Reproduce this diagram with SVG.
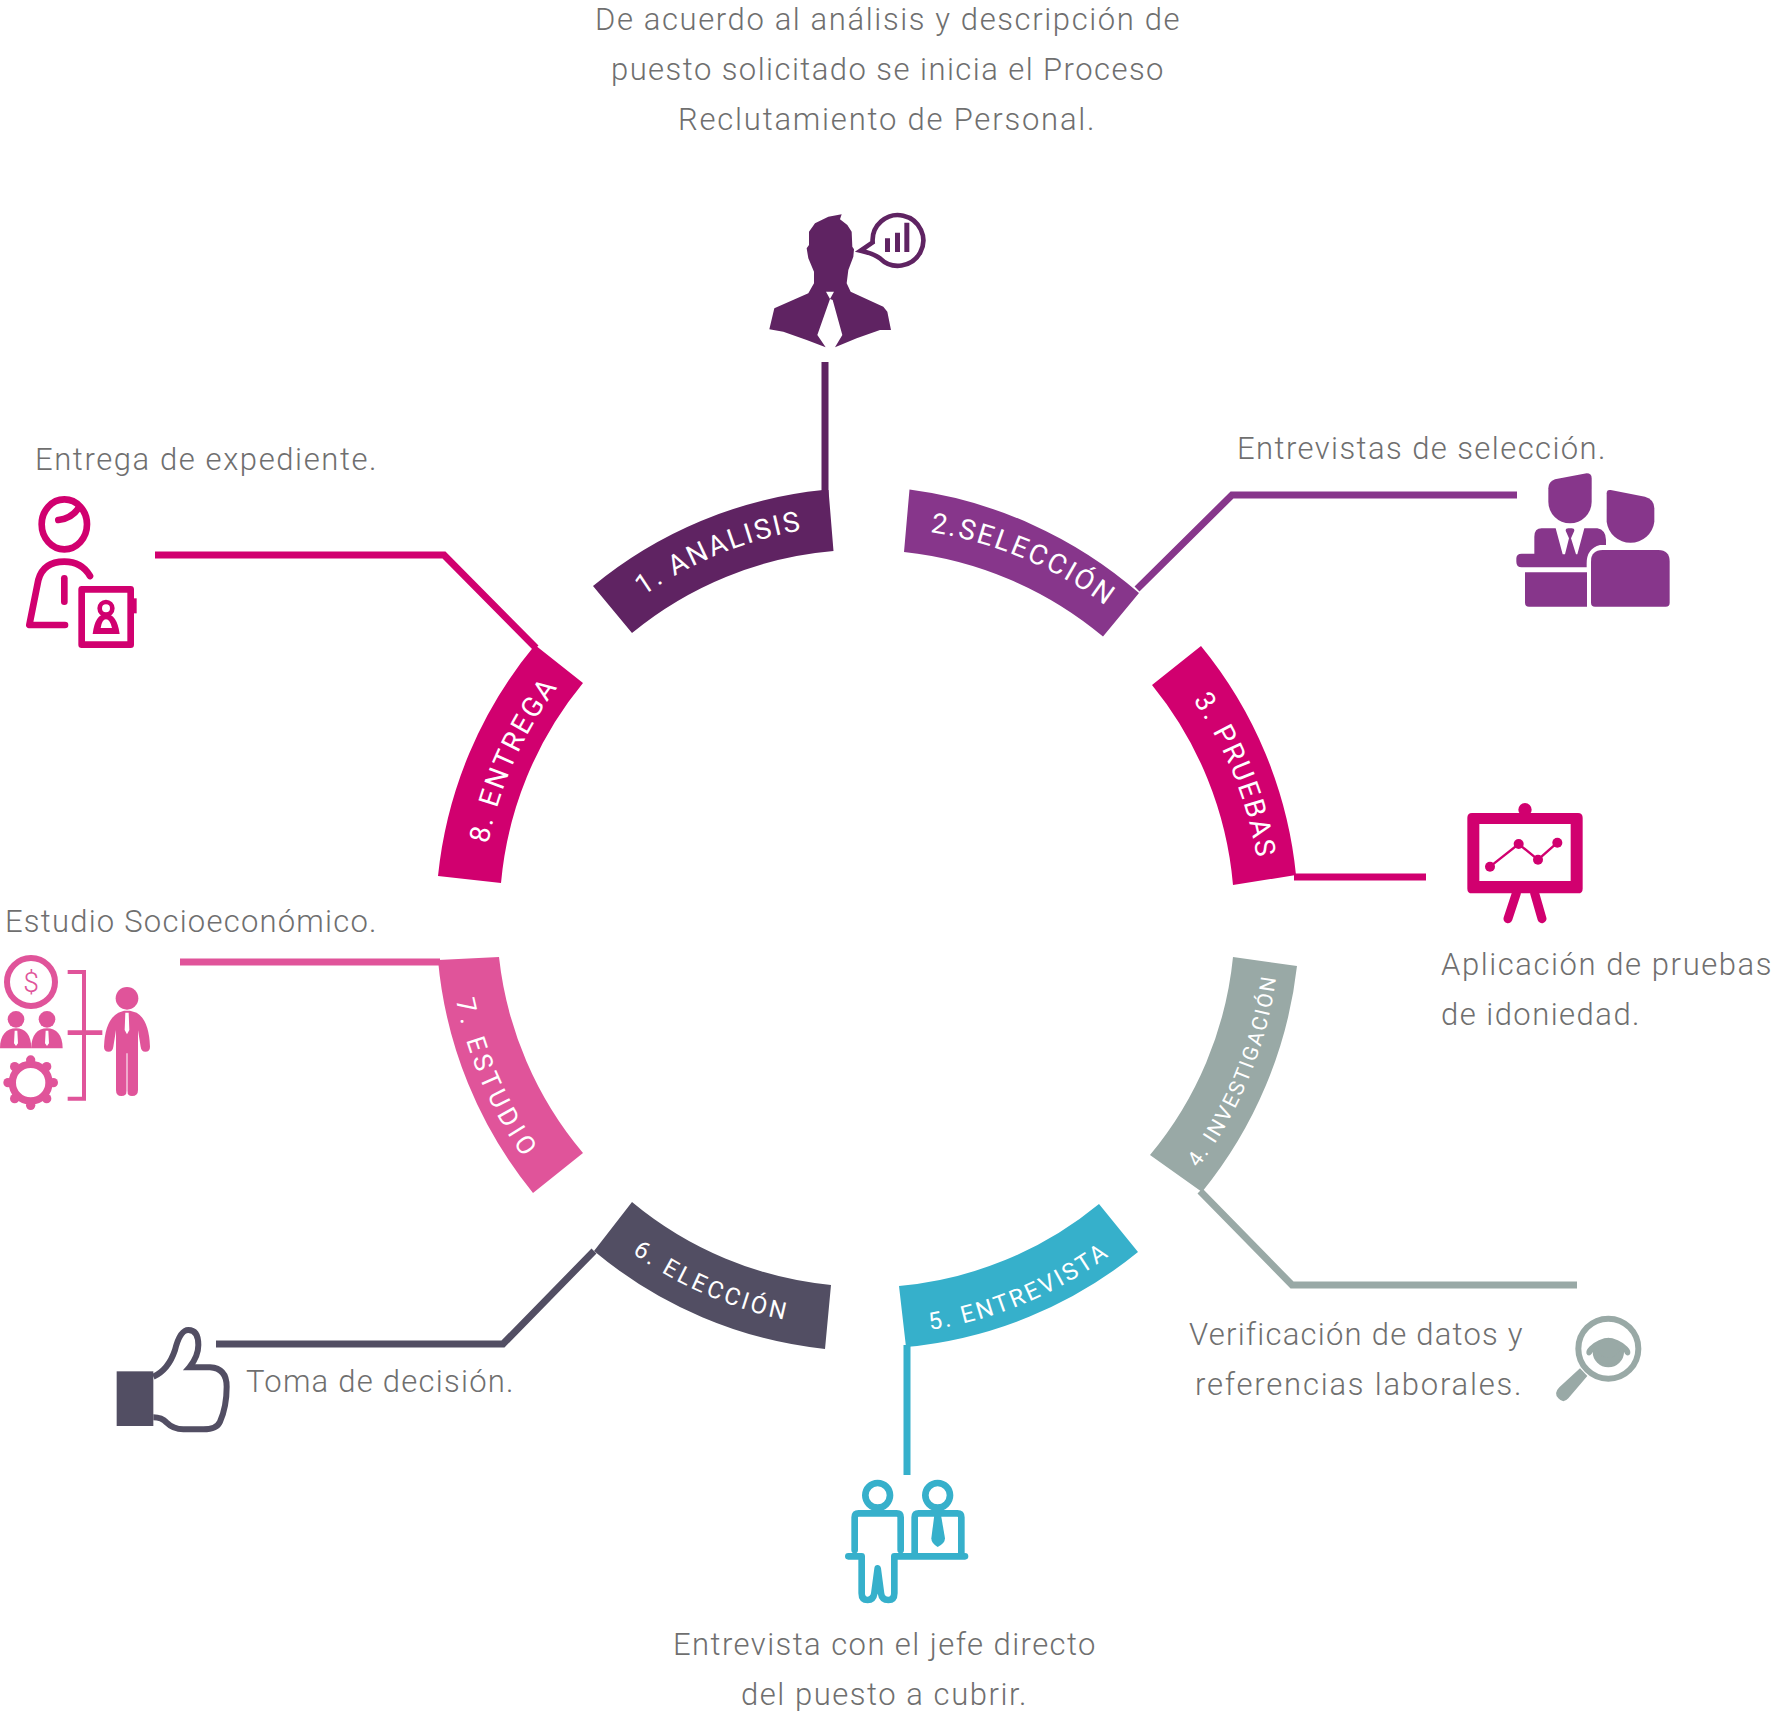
<svg xmlns="http://www.w3.org/2000/svg" width="1775" height="1713" viewBox="0 0 1775 1713">
<style>
text{font-family:"Roboto","Liberation Sans",sans-serif}
.t{font-size:31px;font-weight:300;fill:#6f6f6f;letter-spacing:1.5px}
.b{font-size:28px;font-weight:400;fill:#fff;letter-spacing:2.2px}
.c{fill:none;stroke-width:7}
.s{fill:none;stroke-linecap:round;stroke-linejoin:round}
</style>
<defs>
<path id="p1" d="M643 596A399 399 0 0 1 900 525"/>
<path id="p2" d="M930 532A395 395 0 0 1 1170 666"/>
<path id="p3" d="M1193 700A395 395 0 0 1 1262 940"/>
<path id="p4" d="M1198 1168A413 413 0 0 0 1280 930"/>
<path id="p5" d="M930 1330A412 412 0 0 0 1180 1190"/>
<path id="p6" d="M632 1253A406 406 0 0 0 850 1328"/>
<path id="p7" d="M456 1000A417 417 0 0 0 620 1256"/>
<path id="p8" d="M488 844A387 387 0 0 1 700 570"/>
</defs>
<g id="connectors">
<path class="c" stroke="#5f2362" d="M825 362V497"/>
<path class="c" stroke="#87368b" d="M1137 589L1232 495H1517"/>
<path class="c" stroke="#d1006f" d="M1294 877H1426"/>
<path class="c" stroke="#99a9a6" d="M1200 1191L1292 1285H1577"/>
<path class="c" stroke="#36b0cb" d="M907 1345V1475"/>
<path class="c" stroke="#524e63" d="M594 1251L503 1344H216"/>
<path class="c" stroke="#e0549a" d="M440 962H180"/>
<path class="c" stroke="#d1006f" d="M155 555H444L536 648"/>
</g>
<g id="node1">
<path fill="#5f2362" d="M593 586A430 430 0 0 1 823 490L828.500 490L833.500 551A366 366 0 0 0 632 633Z"/>
<text class="b"><textPath href="#p1">1. ANALISIS</textPath></text>
<g transform="translate(740 190) scale(.33333)">
<path fill="#5f2362" d="M305 73L300 88L322 105L335 125L337 170L342 178L340 200L325 240L320 280L332 305L430 350L442 365L453 420L420 420L350 445L285 472L307 435L278 330L270 327L282 305H258L270 327L232 435L257 472L200 450L130 425L88 418L103 355L205 310L222 280L222 245L205 205L200 175L207 165L207 125L225 100L265 80Z"/>
<path fill="none" stroke="#5f2362" stroke-width="14" d="M398 157L362 182Q400 190 420 205A76 76 0 1 0 398 157Z"/>
<path fill="#5f2362" d="M435 145h15v41h-15zM465 128h15v58h-15zM493 98h15v88h-15z"/>
</g>
<text class="t" x="595" y="30" textLength="586">De acuerdo al análisis y descripción de</text>
<text class="t" x="611" y="80" textLength="554">puesto solicitado se inicia el Proceso</text>
<text class="t" x="678" y="130" textLength="418">Reclutamiento de Personal.</text>
</g>
<g id="node2">
<path fill="#87368b" d="M909.500 489.600A436 436 0 0 1 1139 593L1103 636.600A372 372 0 0 0 904 552Z"/>
<text class="b"><textPath href="#p2">2.SELECCIÓN</textPath></text>
<g transform="translate(1490 460) scale(.33333)" fill="#87368b">
<path d="M175 85Q175 65 195 58L290 40Q305 40 305 55V125A65 65 0 0 1 175 125Z"/>
<path d="M350 100Q350 88 362 90L465 110Q493 118 493 145V185A72 72 0 0 1 350 185Z"/>
<path d="M133 280V230Q133 205 155 205H197L218 283H225L237 235L227 212Q227 205 235 205H245Q253 205 253 212L243 235L258 283H262L283 205H322Q348 210 348 240V255H330Q290 265 290 310V322H95Q79 322 79 305V295Q79 281 95 281H133Z"/>
<path d="M105 337H291V440H117Q105 440 105 428Z"/>
<path d="M338 270H505Q539 270 539 305V428Q539 440 527 440H315Q303 440 303 428V305Q303 270 338 270Z"/>
</g>
<text class="t" x="1237" y="459" textLength="370">Entrevistas de selección.</text>
</g>
<g id="node3">
<path fill="#d1006f" d="M1152 685L1201 646A428 428 0 0 1 1296 875L1233 885A366 366 0 0 0 1152 685Z"/>
<text class="b"><textPath href="#p3">3. PRUEBAS</textPath></text>
<g transform="translate(1440 790) scale(.33333)">
<circle fill="#d1006f" cx="255" cy="59" r="20"/>
<path fill="#d1006f" fill-rule="evenodd" d="M96 69H414Q428 69 428 83V296Q428 310 414 310H96Q82 310 82 296V83Q82 69 96 69ZM118 102V273H392V102Z"/>
<path stroke="#d1006f" fill="none" stroke-width="27" stroke-linecap="round" d="M229 310L204 386M284 310L306 386"/>
<path stroke="#d1006f" fill="none" stroke-width="7" d="M150 230L236 162L294 209L352 158"/>
<g fill="#d1006f"><circle cx="150" cy="230" r="15"/><circle cx="236" cy="162" r="15"/><circle cx="294" cy="209" r="15"/><circle cx="352" cy="158" r="15"/></g>
</g>
<text class="t" x="1441" y="975" textLength="332">Aplicación de pruebas</text>
<text class="t" x="1441" y="1025" textLength="200">de idoniedad.</text>
</g>
<g id="node4">
<path fill="#99a9a6" d="M1233 957L1297 966A436 436 0 0 1 1202 1192L1150 1155A366 366 0 0 0 1233 957Z"/>
<text class="b" style="font-size:21px;letter-spacing:2.1px"><textPath href="#p4">4. INVESTIGACIÓN</textPath></text>
<g transform="translate(1530 1300) scale(.33333)">
<circle cx="235" cy="146" r="90" fill="none" stroke="#99a9a6" stroke-width="18"/>
<path d="M150 205L172 228L115 295Q100 312 85 295Q70 280 88 262Z" fill="#99a9a6"/>
<path fill="#99a9a6" d="M172 165Q163 155 178 140Q235 88 292 140Q307 155 298 165Q288 170 282 155A47 47 0 0 1 188 155Q182 170 172 165Z"/>
<circle cx="235" cy="143" r="30" fill="#99a9a6"/>
<path d="M235 192A50 50 0 0 1 188 155L198 145A38 38 0 0 0 272 145L282 155A50 50 0 0 1 235 192Z" fill="#99a9a6"/>
</g>
<text class="t" x="1189" y="1345" textLength="335">Verificación de datos y</text>
<text class="t" x="1195" y="1395" textLength="328">referencias laborales.</text>
</g>
<g id="node5">
<path fill="#36b0cb" d="M899 1286A366 366 0 0 0 1099 1204L1138 1252A430 430 0 0 1 906 1347Z"/>
<text class="b" style="font-size:24px;letter-spacing:2.6px"><textPath href="#p5">5. ENTREVISTA</textPath></text>
<g transform="translate(830 1460) scale(.33333)" stroke="#36b0cb" stroke-width="20" class="s">
<circle cx="143" cy="106" r="37"/><circle cx="323" cy="106" r="37"/>
<path d="M74 270V172Q74 160 86 160H200Q212 160 212 172V270"/>
<path d="M55 289H95V400Q95 420 113 420Q130 420 133 400L143 325L153 400Q156 420 175 420Q193 420 193 400V289H405"/>
<path d="M254 280V172Q254 160 266 160H382Q394 160 394 172V280"/>
<path fill="#36b0cb" stroke="none" d="M313 165H333L345 235Q345 250 323 261Q304 250 304 235Z"/>
</g>
<text class="t" x="673" y="1655" textLength="424">Entrevista con el jefe directo</text>
<text class="t" x="741" y="1705" textLength="287">del puesto a cubrir.</text>
</g>
<g id="node6">
<path fill="#524e63" d="M632 1202A366 366 0 0 0 831 1285L825 1349A430 430 0 0 1 594 1251Z"/>
<text class="b" style="font-size:24px;letter-spacing:3px"><textPath href="#p6">6. ELECCIÓN</textPath></text>
<g transform="translate(100 1310) scale(.33333)">
<rect x="50" y="184" width="110" height="164" fill="#524e63"/>
<path fill="none" stroke="#524e63" stroke-width="18" d="M160 200Q205 180 225 120Q240 60 265 60Q295 60 295 105Q295 140 268 172H330Q380 175 380 230Q380 290 360 335Q350 358 310 358H250Q220 358 200 338Q185 322 160 322"/>
</g>
<text class="t" x="246" y="1392" textLength="269">Toma de decisión.</text>
</g>
<g id="node7">
<path fill="#e0549a" d="M438 960L499 957A366 366 0 0 0 583 1153L533 1193A430 430 0 0 1 438 960Z"/>
<text class="b" style="font-size:26px;letter-spacing:4.4px"><textPath href="#p7">7. ESTUDIO</textPath></text>
<g transform="translate(0 940) scale(.33333)" fill="#e0549a">
<circle cx="93" cy="126" r="72" fill="none" stroke="#e0549a" stroke-width="18"/>
<text x="93" y="156" style="font-size:85px;font-weight:300;fill:#e0549a;text-anchor:middle">$</text>
<circle cx="48" cy="238" r="25"/><circle cx="141" cy="238" r="25"/>
<path d="M0 325C0 285 20 265 48 265C76 265 94 285 94 325ZM94 325C94 285 113 265 141 265C169 265 188 285 188 325Z"/>
<path fill="#fff" d="M44 272H52L54 310L48 318L42 310ZM137 272H145L147 310L141 318L135 310Z"/>
<circle cx="92" cy="428" r="55" fill="none" stroke="#e0549a" stroke-width="22"/>
<g><circle cx="92" cy="360" r="14"/><circle cx="92" cy="496" r="14"/><circle cx="24" cy="428" r="14"/><circle cx="160" cy="428" r="14"/><circle cx="44" cy="380" r="14"/><circle cx="140" cy="380" r="14"/><circle cx="44" cy="476" r="14"/><circle cx="140" cy="476" r="14"/></g>
<path fill="none" stroke="#e0549a" stroke-width="12" d="M203 96H252V476H203"/>
<path fill="none" stroke="#e0549a" stroke-width="14" d="M203 278H307"/>
<circle cx="381" cy="175" r="34"/>
<path d="M312 320Q315 240 355 218L372 212H390L410 218Q447 240 450 320Q450 335 436 335Q424 335 422 320L414 270V450Q414 468 396 468Q382 468 381 452Q380 468 364 468Q348 468 348 450V270L340 320Q338 335 326 335Q312 335 312 320Z"/>
<path fill="#fff" d="M376 218H386L388 270L381 283L374 270ZM379.500 340H382.500V460H379.500Z"/>
</g>
<text class="t" x="5" y="932" textLength="373">Estudio Socioeconómico.</text>
</g>
<g id="node8">
<path fill="#d1006f" d="M438 876A430 430 0 0 1 535 645L583 683A366 366 0 0 0 501 883Z"/>
<text class="b"><textPath href="#p8">8. ENTREGA</textPath></text>
<g transform="translate(10 480) scale(.33333)">
<g stroke="#d1006f" stroke-width="20" class="s">
<ellipse cx="163" cy="133" rx="68" ry="75"/>
<path d="M145 120Q185 115 205 85"/>
<path d="M240 288Q215 245 163 245Q100 245 85 300L58 435H165"/>
<path d="M163 295V365"/>
<rect x="215" y="328" width="147" height="166"/>
</g>
<rect x="370" y="355" width="10" height="45" fill="#d1006f"/>
<circle cx="288" cy="385" r="19" fill="none" stroke="#d1006f" stroke-width="14"/>
<path fill="#d1006f" fill-rule="evenodd" d="M248 462Q255 402 288 402Q321 402 329 462ZM272 444H306Q300 418 288 418Q276 418 272 444Z"/>
</g>
<text class="t" x="35" y="470" textLength="343">Entrega de expediente.</text>
</g>
</svg>
